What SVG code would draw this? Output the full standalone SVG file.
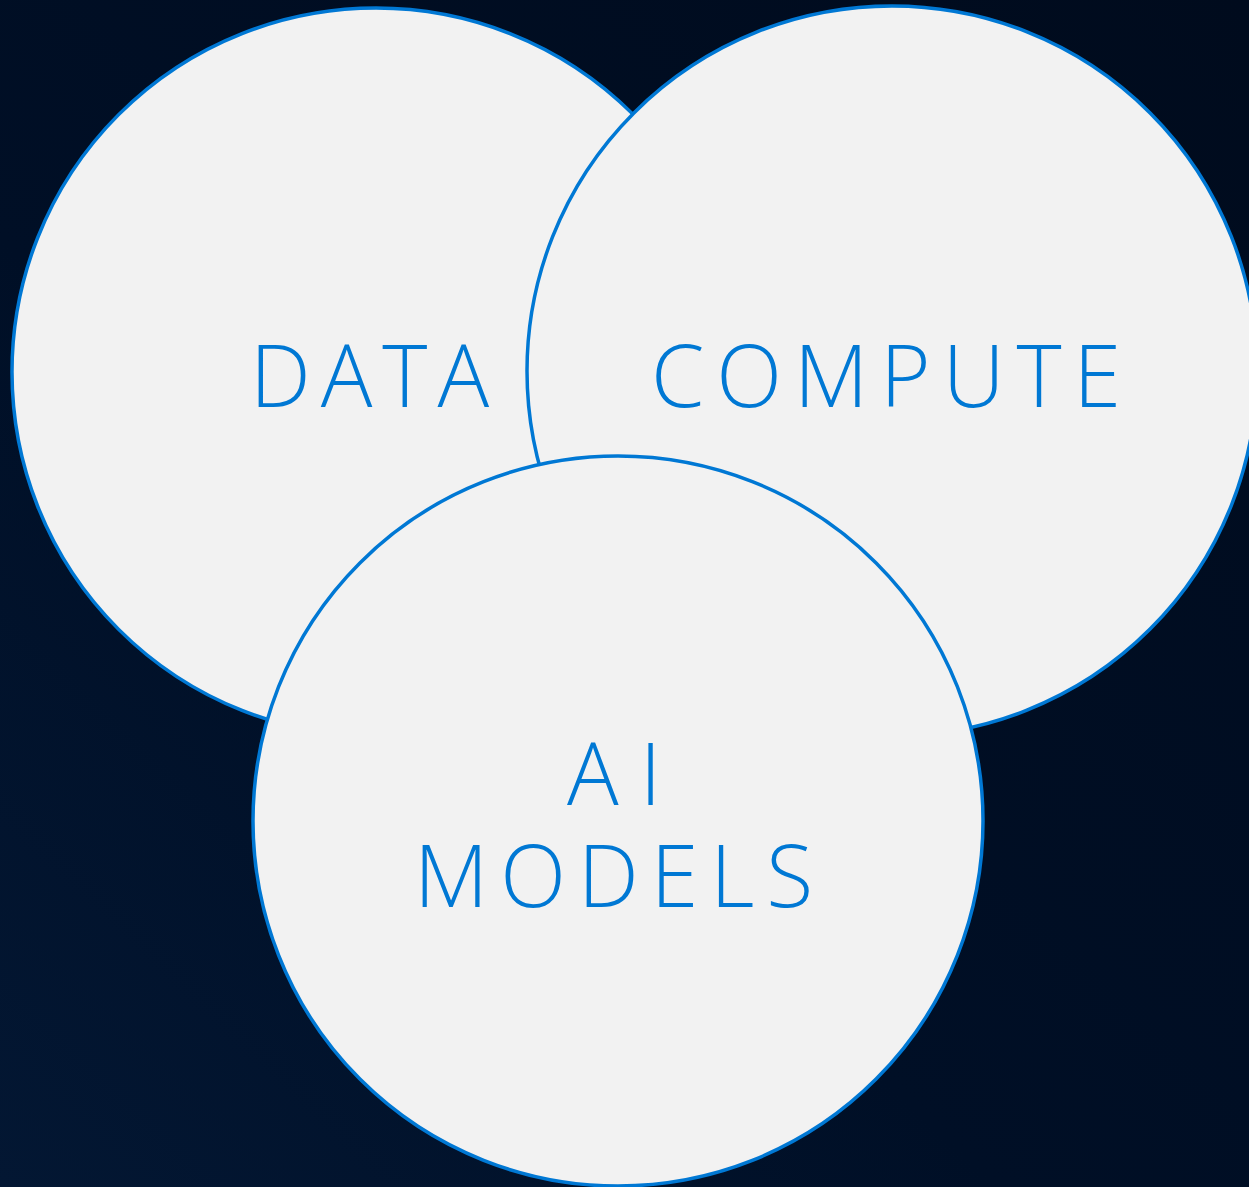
<svg xmlns="http://www.w3.org/2000/svg" width="1249" height="1187" viewBox="0 0 1249 1187">
  <defs>
    <linearGradient id="bg" x1="1" y1="0" x2="0" y2="1">
      <stop offset="0" stop-color="#000b1d"/>
      <stop offset="0.6" stop-color="#000f26"/>
      <stop offset="1" stop-color="#031733"/>
    </linearGradient>
  </defs>
  <style>
    .circle { fill: #f2f2f2; stroke: #0078d4; stroke-width: 3.5; }
    .label { fill: #0078d4; font-family: "Open Sans", "Noto Sans", "Liberation Sans", sans-serif; font-weight: 300; font-size: 86px; letter-spacing: 12px; }
  </style>
  <rect width="1249" height="1187" fill="url(#bg)"/>
  <g id="data">
    <circle class="circle" cx="376" cy="372" r="364"/>
    <text class="label" x="250" y="407" style="letter-spacing:10px">DATA</text>
  </g>
  <g id="compute">
    <circle class="circle" cx="892" cy="371" r="365"/>
    <text class="label" x="651" y="407">COMPUTE</text>
  </g>
  <g id="ai-models">
    <circle class="circle" cx="618" cy="821" r="365"/>
    <text class="label" x="567" y="805" style="letter-spacing:21px">AI</text>
    <text class="label" x="414" y="907">MODELS</text>
  </g>
</svg>
